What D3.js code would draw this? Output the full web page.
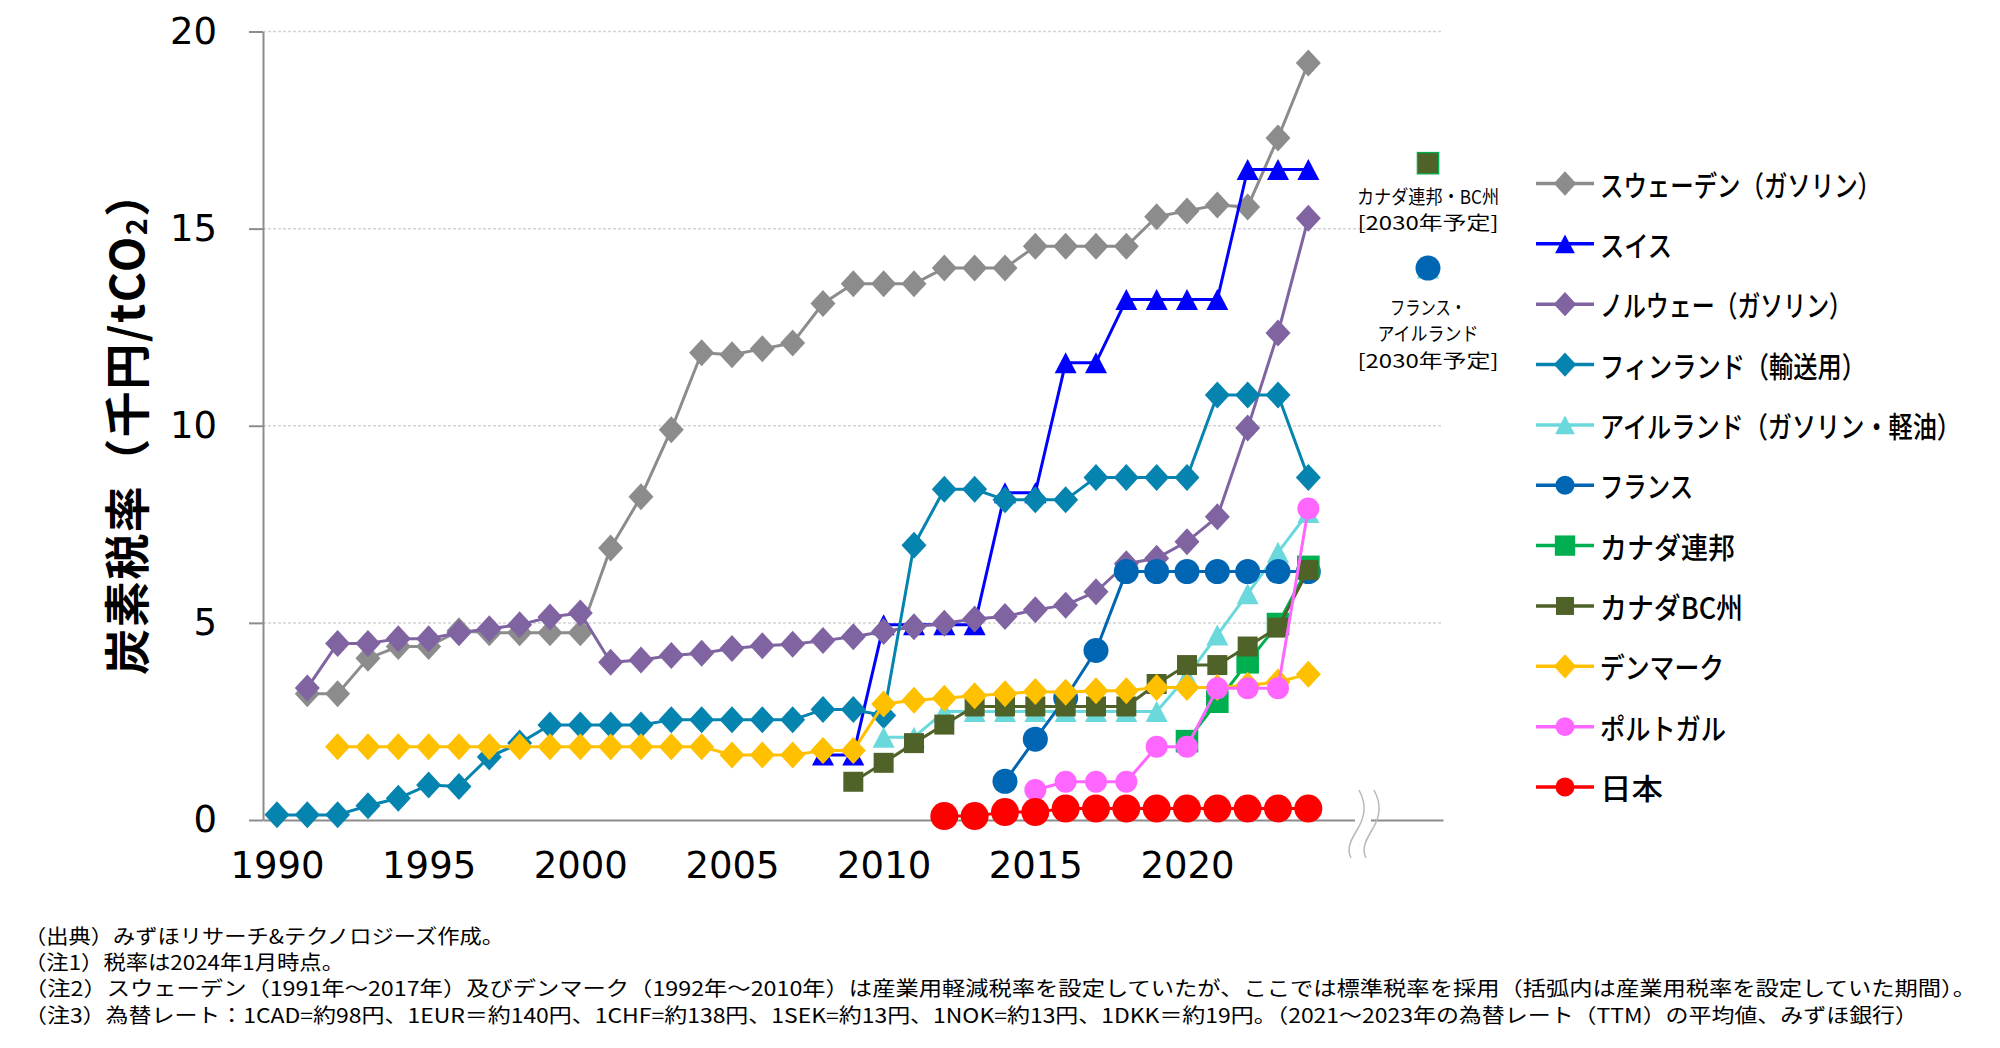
<!DOCTYPE html>
<html>
<head>
<meta charset="utf-8">
<script src="https://cdn.jsdelivr.net/npm/d3@7"></script>
<style>
  body { margin: 0; background: #fff; }
  svg { display: block; }
  text { fill: #000; }
</style>
</head>
<body>
<svg id="chart" width="2000" height="1048"></svg>
<script>
// ---- data (thousand yen / tCO2), index 0 = 1990 ----
const years = [1990, 1991, 1992, 1993, 1994, 1995, 1996, 1997, 1998, 1999,
               2000, 2001, 2002, 2003, 2004, 2005, 2006, 2007, 2008, 2009,
               2010, 2011, 2012, 2013, 2014, 2015, 2016, 2017, 2018, 2019,
               2020, 2021, 2022, 2023, 2024];

const sweden = [null, 3.2, 3.2, 4.1, 4.4, 4.4, 4.8, 4.75, 4.75, 4.75,
                4.75, 6.9, 8.2, 9.9, 11.85, 11.8, 11.95, 12.1, 13.1, 13.6,
                13.6, 13.6, 14.0, 14.0, 14.0, 14.55, 14.55, 14.55, 14.55, 15.3,
                15.45, 15.6, 15.55, 17.3, 19.2];
const swiss = [null, null, null, null, null, null, null, null, null, null,
               null, null, null, null, null, null, null, null, 1.65, 1.65,
               4.95, 4.95, 4.95, 4.95, 8.3, 8.3, 11.6, 11.6, 13.2, 13.2,
               13.2, 13.2, 16.5, 16.5, 16.5];
const norway = [null, 3.35, 4.48, 4.48, 4.6, 4.6, 4.75, 4.85, 4.95, 5.15,
                5.25, 4.0, 4.06, 4.17, 4.23, 4.35, 4.42, 4.46, 4.55, 4.65,
                4.78, 4.9, 4.99, 5.1, 5.16, 5.33, 5.45, 5.79, 6.5, 6.64,
                7.06, 7.69, 9.94, 12.35, 15.26];
const finland = [0.13, 0.13, 0.13, 0.36, 0.55, 0.89, 0.85, 1.6, 1.95, 2.41,
                 2.41, 2.41, 2.41, 2.54, 2.54, 2.54, 2.54, 2.54, 2.8, 2.8,
                 2.65, 6.97, 8.39, 8.39, 8.12, 8.12, 8.12, 8.69, 8.69, 8.69,
                 8.69, 10.78, 10.78, 10.78, 8.69];
const ireland = [null, null, null, null, null, null, null, null, null, null,
                 null, null, null, null, null, null, null, null, null, null,
                 2.1, 2.1, 2.75, 2.75, 2.75, 2.75, 2.75, 2.75, 2.75, 2.75,
                 3.64, 4.69, 5.74, 6.79, 7.8];
const france = [null, null, null, null, null, null, null, null, null, null,
                null, null, null, null, null, null, null, null, null, null,
                null, null, null, null, 0.98, 2.05, 3.1, 4.3, 6.3, 6.3,
                6.3, 6.3, 6.3, 6.3, 6.3];
const canadaFed = [null, null, null, null, null, null, null, null, null, null,
                   null, null, null, null, null, null, null, null, null, null,
                   null, null, null, null, null, null, null, null, null, null,
                   2.0, 3.0, 4.0, 4.97, 6.42];
const canadaBC = [null, null, null, null, null, null, null, null, null, null,
                  null, null, null, null, null, null, null, null, null, 0.97,
                  1.45, 1.95, 2.42, 2.88, 2.88, 2.88, 2.88, 2.88, 2.88, 3.45,
                  3.93, 3.93, 4.4, 4.88, 6.34];
const denmark = [null, null, 1.86, 1.86, 1.86, 1.86, 1.86, 1.86, 1.86, 1.86,
                 1.86, 1.86, 1.86, 1.86, 1.86, 1.65, 1.65, 1.65, 1.76, 1.76,
                 2.94, 3.04, 3.09, 3.15, 3.2, 3.26, 3.24, 3.28, 3.28, 3.36,
                 3.36, 3.36, 3.42, 3.5, 3.7];
const portugal = [null, null, null, null, null, null, null, null, null, null,
                  null, null, null, null, null, null, null, null, null, null,
                  null, null, null, null, null, 0.76, 0.97, 0.97, 0.97, 1.86,
                  1.86, 3.34, 3.34, 3.34, 7.9];
const japan = [null, null, null, null, null, null, null, null, null, null,
               null, null, null, null, null, null, null, null, null, null,
               null, null, 0.1, 0.1, 0.2, 0.2, 0.29, 0.29, 0.29, 0.29,
               0.29, 0.29, 0.29, 0.29, 0.29];

// planned 2030 rates (drawn past the axis break)
const planYears = [2030];
const planIreland = [14.0];
const planFrance = [14.0];
const planCanadaFed = [16.66];
const planCanadaBC = [16.66];

const yTicks = [0, 5, 10, 15, 20];
const xTicks = [1990, 1995, 2000, 2005, 2010, 2015, 2020];

const legendNames = ['スウェーデン（ガソリン）', 'スイス', 'ノルウェー（ガソリン）',
  'フィンランド（輸送用）', 'アイルランド（ガソリン・軽油）', 'フランス', 'カナダ連邦',
  'カナダBC州', 'デンマーク', 'ポルトガル', '日本'];

const canadaNote = ['カナダ連邦・BC州', '[2030年予定]'];
const franceNote = ['フランス・', 'アイルランド', '[2030年予定]'];

const notes = [
  '（出典）みずほリサーチ&テクノロジーズ作成。',
  '（注1）税率は2024年1月時点。',
  '（注2）スウェーデン（1991年～2017年）及びデンマーク（1992年～2010年）は産業用軽減税率を設定していたが、ここでは標準税率を採用（括弧内は産業用税率を設定していた期間）。',
  '（注3）為替レート：1CAD=約98円、1EUR＝約140円、1CHF=約138円、1SEK=約13円、1NOK=約13円、1DKK＝約19円。（2021～2023年の為替レート（TTM）の平均値、みずほ銀行）'
];

// ---- styles ----
const series = [
  {values: sweden,    color: '#8c8c8c', shape: 'diamond'},
  {values: swiss,     color: '#0000ff', shape: 'triangle'},
  {values: norway,    color: '#8064a2', shape: 'diamond'},
  {values: finland,   color: '#0584b0', shape: 'diamond'},
  {values: ireland,   color: '#6bd8dc', shape: 'triangle', plan: planIreland},
  {values: france,    color: '#0066b3', shape: 'circle', r: 12.5, plan: planFrance},
  {values: canadaFed, color: '#00b050', shape: 'square', half: 11.3, plan: planCanadaFed},
  {values: canadaBC,  color: '#4f6228', shape: 'square', half: 10, plan: planCanadaBC},
  {values: denmark,   color: '#ffc000', shape: 'diamond'},
  {values: portugal,  color: '#ff66ff', shape: 'circle', r: 11},
  {values: japan,     color: '#ff0000', shape: 'circle', r: 14}
];
series.forEach((s, i) => s.name = legendNames[i]);

const legendTextWidths = [281, 72, 252, 266, 361, 93, 135, 143, 124, 126, 63];

const jpFont = '"Noto Sans CJK JP", "Noto Sans", sans-serif';
const numFont = '"DejaVu Sans", Verdana, sans-serif';

function markerPath(s, k) {
  k = k || 1;
  if (s.shape === 'diamond') {
    const w = 12.5 * k, h = 13.5 * k;
    return `M0,${-h}L${w},0L0,${h}L${-w},0Z`;
  }
  if (s.shape === 'triangle') {
    const w = 11 * k, h = 10.5 * k;
    return `M0,${-h}L${w},${h}L${-w},${h}Z`;
  }
  if (s.shape === 'square') {
    const a = s.half * k;
    return `M${-a},${-a}H${a}V${a}H${-a}Z`;
  }
  const r = s.r * k;
  return `M${r},0A${r},${r} 0 1,1 ${-r},0A${r},${r} 0 1,1 ${r},0Z`;
}

const svg = d3.select('#chart');

// x has a break between 2026 and 2030
const x = d3.scaleLinear()
  .domain([1989.54, 2026, 2030, 2030.5])
  .range([263, 1369, 1428, 1443]);
const y = d3.scaleLinear()
  .domain([0, 20])
  .range([820, 31.5]);

// gridlines
svg.append('g')
  .selectAll('line')
  .data(yTicks.filter(d => d > 0))
  .join('line')
    .attr('x1', x.range()[0])
    .attr('x2', x.range()[3])
    .attr('y1', d => y(d))
    .attr('y2', d => y(d))
    .attr('stroke', '#d4d4d4')
    .attr('stroke-width', 1.5)
    .attr('stroke-dasharray', '3,2');

// Y axis
const yAxis = svg.append('g')
  .attr('transform', 'translate(263,0)')
  .call(d3.axisLeft(y).tickValues(yTicks).tickSize(14).tickSizeOuter(0).tickPadding(32));
yAxis.select('.domain').attr('stroke', '#8c8c8c').attr('stroke-width', 2);
yAxis.selectAll('.tick line').attr('stroke', '#8c8c8c').attr('stroke-width', 2);
yAxis.selectAll('.tick text')
  .attr('font-family', numFont)
  .attr('font-size', 37)
  .attr('fill', '#000');

// X axis
const xAxis = svg.append('g')
  .attr('transform', 'translate(0,' + y(0) + ')')
  .call(d3.axisBottom(x).tickValues(xTicks).tickSize(0).tickSizeOuter(0).tickPadding(32)
    .tickFormat(d3.format('d')));
xAxis.select('.domain').attr('stroke', '#8c8c8c').attr('stroke-width', 2);
xAxis.selectAll('.tick text')
  .attr('font-family', numFont)
  .attr('font-size', 37)
  .attr('fill', '#000');

// axis break mark
const bx = x(2026) - 12, by = y(0);
const wave = (ox) => `M${ox + 2},${by - 30} C${ox + 10},${by - 15} ${ox + 8},${by - 3} ${ox},${by + 10} S${ox - 10},${by + 30} ${ox - 6},${by + 38}`;
svg.append('path')
  .attr('d', `M${bx + 2},${by - 30} L${bx + 17},${by - 30} L${bx + 9},${by + 38} L${bx - 6},${by + 38} Z`)
  .attr('fill', '#fff');
svg.append('rect')
  .attr('x', bx - 2).attr('y', by - 4).attr('width', 16).attr('height', 8)
  .attr('fill', '#fff');
[bx, bx + 15].forEach(ox => {
  svg.append('path')
    .attr('d', wave(ox))
    .attr('fill', 'none')
    .attr('stroke', '#b8b8b8')
    .attr('stroke-width', 1.5);
});

// Y title
svg.append('text')
  .attr('transform', 'translate(124,422) rotate(-90)')
  .attr('text-anchor', 'middle')
  .attr('dominant-baseline', 'central')
  .attr('font-family', jpFont)
  .attr('font-weight', 'bold')
  .attr('font-size', 46)
  .attr('letter-spacing', 1.5)
  .call(t => {
    t.append('tspan').text('炭素税率（千円/tCO');
    t.append('tspan').attr('font-size', 29).attr('dy', 10).text('2');
    t.append('tspan').attr('dy', -10).text('）');
  });

// series
const line = d3.line()
  .defined(d => d.v != null)
  .x(d => x(d.year))
  .y(d => y(d.v));

const plot = svg.append('g');
series.forEach(s => {
  const pts = years.map((yr, i) => ({year: yr, v: s.values[i]}));
  const g = plot.append('g');
  g.append('path')
    .datum(pts)
    .attr('d', line)
    .attr('fill', 'none')
    .attr('stroke', s.color)
    .attr('stroke-width', 3)
    .attr('stroke-linejoin', 'round');
  const marks = pts.filter(d => d.v != null)
    .concat(s.plan ? planYears.map((yr, i) => ({year: yr, v: s.plan[i]})) : []);
  g.selectAll('path.mk')
    .data(marks)
    .join('path')
      .attr('class', 'mk')
      .attr('transform', d => `translate(${x(d.year)},${y(d.v)})`)
      .attr('d', markerPath(s))
      .attr('fill', s.color);
});

// 2030 notes
function noteBlock(lines, top, widths) {
  svg.append('g')
    .selectAll('text')
    .data(lines)
    .join('text')
      .attr('x', x(planYears[0]))
      .attr('y', (d, i) => top + i * 26.5)
      .attr('text-anchor', 'middle')
      .attr('dominant-baseline', 'central')
      .attr('font-family', jpFont)
      .attr('font-size', 19)
      .attr('textLength', (d, i) => widths[i])
      .attr('lengthAdjust', 'spacingAndGlyphs')
      .text(d => d);
}
noteBlock(canadaNote, y(planCanadaFed[0]) + 32, [142, 141]);
noteBlock(franceNote, y(planFrance[0]) + 38, [76, 101, 141]);

// legend
const legend = svg.append('g').attr('transform', 'translate(1536,183.5)');
const items = legend.selectAll('g')
  .data(series)
  .join('g')
    .attr('transform', (d, i) => `translate(0,${i * 60.35})`);
items.append('line')
  .attr('x1', 0).attr('x2', 58)
  .attr('stroke', d => d.color)
  .attr('stroke-width', 3.5);
items.append('path')
  .attr('transform', 'translate(29,0)')
  .attr('d', d => markerPath(d, d.shape === 'circle' ? 9.5 / d.r : 0.9))
  .attr('fill', d => d.color);
items.append('text')
  .attr('x', 64)
  .attr('dominant-baseline', 'central')
  .attr('font-family', jpFont)
  .attr('font-weight', 500)
  .attr('font-size', 29)
  .attr('textLength', (d, i) => legendTextWidths[i])
  .attr('lengthAdjust', 'spacingAndGlyphs')
  .text(d => d.name);

// footnotes
const noteWidths = [480, 320, 1952, 1894];
svg.append('g')
  .selectAll('text')
  .data(notes)
  .join('text')
    .attr('x', 24)
    .attr('y', (d, i) => 935 + i * 26.4)
    .attr('dominant-baseline', 'central')
    .attr('font-family', jpFont)
    .attr('font-size', 20)
    .attr('textLength', (d, i) => noteWidths[i])
    .attr('lengthAdjust', 'spacingAndGlyphs')
    .text(d => d);
</script>
</body>
</html>
